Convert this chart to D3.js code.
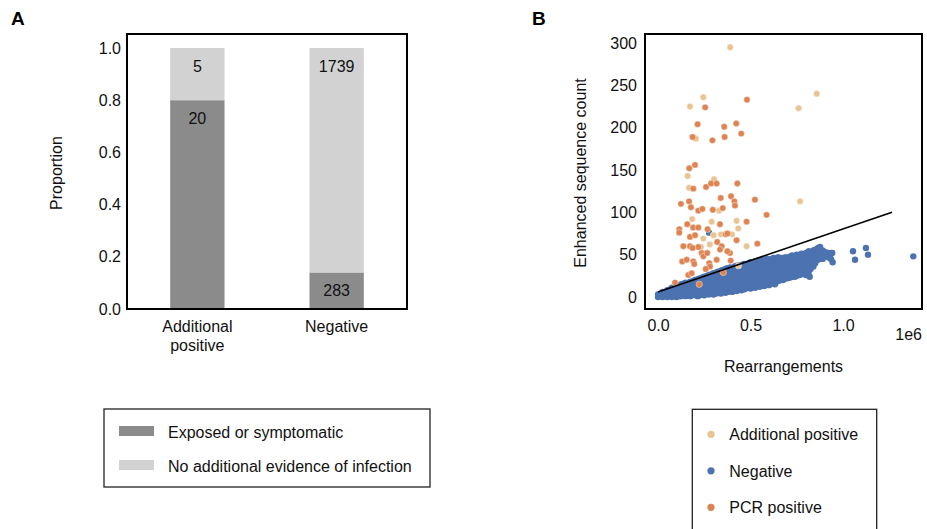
<!DOCTYPE html>
<html><head><meta charset="utf-8">
<script src="https://cdn.jsdelivr.net/npm/d3@7"></script>
<style>body{margin:0;background:#fff}svg{display:block;background:#fff}text{font-family:"Liberation Sans",Arial,Helvetica,sans-serif}</style>
</head><body><svg id="c" width="927" height="529"></svg>
<script>
// ---------- Panel A data ----------
const barCategories = ["Additional positive", "Negative"];
const barCategoryLines = [["Additional", "positive"], ["Negative"]];
const exposedCounts = [20, 283];
const noEvidenceCounts = [5, 1739];
const yTicksA = [0, 0.2, 0.4, 0.6, 0.8, 1.0];
const legendA = ["Exposed or symptomatic", "No additional evidence of infection"];
const colorsA = ["#8b8b8b", "#d2d2d2"];

// ---------- Panel B data (x in units of 1e6 rearrangements) ----------
const xTicksB = [0, 0.5, 1.0];
const yTicksB = [0, 50, 100, 150, 200, 250, 300];
const seriesB = ["Additional positive", "Negative", "PCR positive"];
const colorsB = ["#e8c492", "#4c72b0", "#dd8452"];
const additionalPositive = [[0.39,295],[0.245,236],[0.173,225],[0.858,240],[0.76,223],[0.768,113],[0.205,187],[0.16,143],[0.303,139],[0.168,129],[0.33,102],[0.185,92],[0.29,89],[0.425,90],[0.434,81],[0.34,74],[0.245,69],[0.40,74],[0.28,62],[0.479,60],[0.232,59],[0.30,73],[0.435,37]];
const pcrPositive = [[0.481,233],[0.255,224],[0.214,204],[0.423,205],[0.358,201],[0.45,193],[0.187,189],[0.36,189],[0.294,185],[0.2,156],[0.169,152],[0.26,130],[0.287,134],[0.317,134],[0.429,134],[0.124,110],[0.168,113],[0.178,106],[0.218,102],[0.24,104],[0.296,103],[0.339,117],[0.35,105],[0.395,119],[0.413,113],[0.416,108],[0.524,115],[0.587,97],[0.191,128],[0.335,86],[0.479,89],[0.158,86],[0.115,80],[0.19,82],[0.218,82],[0.268,80],[0.173,71],[0.2,73],[0.137,60],[0.173,60],[0.218,59],[0.366,74],[0.32,65],[0.344,60],[0.425,67],[0.537,63],[0.131,42],[0.155,44],[0.191,42],[0.236,52],[0.245,48],[0.277,40],[0.281,36],[0.317,44],[0.389,52],[0.164,26],[0.092,17],[0.223,15],[0.353,29],[0.375,75],[0.258,33],[0.196,39],[0.182,28],[0.335,56],[0.266,52],[0.187,58],[0.115,76],[0.375,54],[0.393,43]];
const negativeColumns = [
[0.00,[0,3]],[0.015,[1,4]],[0.025,[0,3,6]],[0.04,[1,5]],[0.05,[0,4,8]],[0.065,[2,6,9]],[0.075,[0,4,8,11]],[0.09,[2,6,10]],
[0.10,[0,4,8,12]],[0.115,[1,6,10,14]],[0.125,[1,5,9,13,15]],[0.14,[3,8,12,16]],[0.15,[1,5,10,14,17]],[0.165,[2,7,11,15]],
[0.175,[1,5,9,13,18]],[0.19,[3,8,12,16,19]],[0.20,[2,6,10,14,20]],[0.215,[1,5,9,13,17,21]],[0.225,[2,7,11,16,22]],
[0.24,[3,8,12,17,23]],[0.25,[2,6,10,15,19,24]],[0.265,[4,8,13,18,22,25]],[0.275,[3,7,11,16,21,26]],[0.29,[5,10,14,19,24,27]],
[0.30,[3,8,12,17,22,28]],[0.315,[4,9,14,19,24,29]],[0.325,[5,10,15,20,25,30]],[0.34,[4,8,13,18,23,27,31]],[0.35,[6,11,16,21,26,32]],
[0.365,[5,9,14,19,24,29,33]],[0.375,[6,11,16,21,26,31,34]],[0.39,[7,12,17,22,27,32,35]],[0.40,[6,10,15,20,25,30,34]],
[0.415,[8,13,18,23,28,33,36]],[0.425,[7,12,17,22,27,32,37]],[0.44,[9,14,19,24,29,34,38]],[0.45,[8,13,18,23,28,33,37]],
[0.465,[9,15,20,25,30,35,39]],[0.475,[10,14,19,24,29,34,38]],[0.49,[11,16,21,26,31,36,40]],[0.50,[10,15,20,25,30,35,41]],
[0.515,[12,17,22,27,32,37,40]],[0.525,[11,16,21,26,31,36,42]],[0.54,[13,18,23,28,33,38,43]],[0.55,[12,17,22,27,32,37,42]],
[0.565,[14,19,24,29,34,39,44]],[0.575,[13,18,23,28,33,38,43]],[0.59,[15,20,25,30,35,40,45]],[0.60,[14,19,24,29,34,39,44]],
[0.615,[16,21,26,31,36,41,45]],[0.625,[17,22,27,32,37,42,46]],[0.64,[18,23,28,33,38,43,45]],[0.65,[19,24,29,34,39,44,47]],
[0.665,[20,25,30,35,40,45]],[0.675,[21,26,31,36,41,46]],[0.69,[22,27,32,37,42,47]],[0.70,[22,27,32,37,42,46]],
[0.715,[23,28,33,38,43,48]],[0.725,[24,29,34,39,44,49]],[0.74,[24,30,35,40,45,48]],[0.75,[25,30,35,40,45,50]],
[0.765,[26,31,36,41,46,49]],[0.775,[27,32,37,42,47,51]],[0.79,[28,33,38,43,48,50]],[0.80,[26,31,36,41,46,52]],
[0.815,[30,35,40,45,50,54]],[0.825,[33,38,43,48,53]],[0.84,[36,41,46,51,55]],[0.85,[40,45,50,56]],[0.865,[44,49,54,58]],
[0.875,[47,52,57]],[0.89,[45,50,55]],[0.905,[48,53]],[0.92,[47,52]],[0.935,[45,52]]
];
const negativeOutliers = [[0.276,76],[0.632,15],[0.676,20],[0.82,24],[0.944,41],[0.942,52],[0.876,59],[1.054,54],[1.065,44],[1.124,58],[1.135,50],[1.38,48]];
const thresholdX = [0, 1.265];
const thresholdY = [6, 100];

// ---------- drawing ----------
const svg = d3.select("#c");
svg.append("rect").attr("width", 927).attr("height", 529).attr("fill", "#fff");

// Panel A
const A = {l: 127, r: 407, t: 34, b: 309};
const yA = d3.scaleLinear().domain([0, 1]).range([309, 48]);
const xA = d3.scaleBand().domain(barCategories).range([A.l, A.r]).paddingInner(0.61).paddingOuter(0.31);
const gA = svg.append("g");
barCategories.forEach((c, i) => {
  const tot = exposedCounts[i] + noEvidenceCounts[i];
  const p = exposedCounts[i] / tot;
  const segs = [{y0: 0, y1: p, col: colorsA[0], n: exposedCounts[i]}, {y0: p, y1: 1, col: colorsA[1], n: noEvidenceCounts[i]}];
  segs.forEach(s => {
    gA.append("rect").attr("x", xA(c)).attr("width", xA.bandwidth())
      .attr("y", yA(s.y1)).attr("height", yA(s.y0) - yA(s.y1)).attr("fill", s.col);
  });
  segs.forEach(s => {
    gA.append("text").attr("x", xA(c) + xA.bandwidth() / 2).attr("y", yA(s.y1) + 23.5)
      .attr("text-anchor", "middle").attr("font-size", 16).attr("fill", "#111").text(s.n);
  });
  barCategoryLines[i].forEach((ln, j) => {
    gA.append("text").attr("x", xA(c) + xA.bandwidth() / 2).attr("y", 332 + j * 18.5)
      .attr("text-anchor", "middle").attr("font-size", 16).attr("fill", "#111").text(ln);
  });
});
const axA = svg.append("g").attr("transform", `translate(${A.l},0)`)
  .call(d3.axisLeft(yA).tickValues(yTicksA).tickFormat(d3.format(".1f")).tickSize(0).tickPadding(6));
axA.select(".domain").remove();
axA.selectAll("text").attr("font-size", 16).attr("fill", "#111").attr("font-family", null);
svg.append("rect").attr("x", A.l).attr("y", A.t).attr("width", A.r - A.l).attr("height", A.b - A.t)
  .attr("fill", "none").attr("stroke", "#000").attr("stroke-width", 2);
svg.append("text").attr("transform", "translate(62,173) rotate(-90)").attr("text-anchor", "middle")
  .attr("font-size", 16).attr("fill", "#111").text("Proportion");
svg.append("text").attr("x", 11).attr("y", 25).attr("font-size", 19).attr("font-weight", "bold").text("A");

// Legend A
svg.append("rect").attr("x", 104).attr("y", 409).attr("width", 326).attr("height", 78)
  .attr("fill", "#fff").attr("stroke", "#222").attr("stroke-width", 1.3);
legendA.forEach((t, i) => {
  const yy = 426 + i * 34;
  svg.append("rect").attr("x", 119).attr("y", yy).attr("width", 35).attr("height", 10).attr("fill", colorsA[i]);
  svg.append("text").attr("x", 168).attr("y", yy + 11.5).attr("font-size", 16).attr("fill", "#111").text(t);
});

// Panel B
const B = {l: 645, r: 922, t: 34, b: 309};
const xB = d3.scaleLinear().domain([0, 1]).range([658, 843]);
const yB = d3.scaleLinear().domain([0, 300]).range([297, 43]);
svg.append("defs").append("clipPath").attr("id", "clipB").append("rect")
  .attr("x", B.l).attr("y", B.t).attr("width", B.r - B.l).attr("height", B.b - B.t);
const gB = svg.append("g").attr("clip-path", "url(#clipB)");
const negative = [];
negativeColumns.forEach(([x, ys]) => ys.forEach(y => negative.push([x, y])));
negativeOutliers.forEach(p => negative.push(p));
const drawPts = (data, col, sw) => gB.append("g").selectAll("circle").data(data).join("circle")
  .attr("cx", d => xB(d[0])).attr("cy", d => yB(d[1])).attr("r", 3.2)
  .attr("fill", col).attr("stroke", sw > 0 ? "#fff" : "none").attr("stroke-width", sw);
drawPts(negative, colorsB[1], 0);
drawPts(additionalPositive, colorsB[0], 0.4);
drawPts(pcrPositive, colorsB[2], 0.4);
gB.append("line").attr("x1", xB(thresholdX[0])).attr("y1", yB(thresholdY[0]))
  .attr("x2", xB(thresholdX[1])).attr("y2", yB(thresholdY[1])).attr("stroke", "#000").attr("stroke-width", 1.6);
const axBy = svg.append("g").attr("transform", `translate(${B.l},0)`)
  .call(d3.axisLeft(yB).tickValues(yTicksB).tickSize(0).tickPadding(8));
axBy.select(".domain").remove();
axBy.selectAll("text").attr("font-size", 16).attr("fill", "#111").attr("font-family", null);
const axBx = svg.append("g").attr("transform", `translate(0,${B.b})`)
  .call(d3.axisBottom(xB).tickValues(xTicksB).tickFormat(d3.format(".1f")).tickSize(0).tickPadding(10.5));
axBx.select(".domain").remove();
axBx.selectAll("text").attr("font-size", 16).attr("fill", "#111").attr("font-family", null);
svg.append("rect").attr("x", B.l).attr("y", B.t).attr("width", B.r - B.l).attr("height", B.b - B.t)
  .attr("fill", "none").attr("stroke", "#000").attr("stroke-width", 2);
svg.append("text").attr("x", B.r).attr("y", 340).attr("text-anchor", "end").attr("font-size", 16).attr("fill", "#111").text("1e6");
svg.append("text").attr("x", (B.l + B.r) / 2).attr("y", 371.5).attr("text-anchor", "middle").attr("font-size", 16).attr("fill", "#111").text("Rearrangements");
svg.append("text").attr("transform", "translate(586,173) rotate(-90)").attr("text-anchor", "middle")
  .attr("font-size", 16).attr("fill", "#111").text("Enhanced sequence count");
svg.append("text").attr("x", 532).attr("y", 25).attr("font-size", 19).attr("font-weight", "bold").text("B");

// Legend B
svg.append("rect").attr("x", 692.3).attr("y", 409.3).attr("width", 184.4).attr("height", 140)
  .attr("fill", "#fff").attr("stroke", "#222").attr("stroke-width", 1.3);
seriesB.forEach((s, i) => {
  const yy = 434.3 + i * 36.5;
  svg.append("circle").attr("cx", 711).attr("cy", yy).attr("r", 3.6).attr("fill", colorsB[i]);
  svg.append("text").attr("x", 729.3).attr("y", yy + 5.8).attr("font-size", 16).attr("fill", "#111").text(s);
});
</script></body></html>
